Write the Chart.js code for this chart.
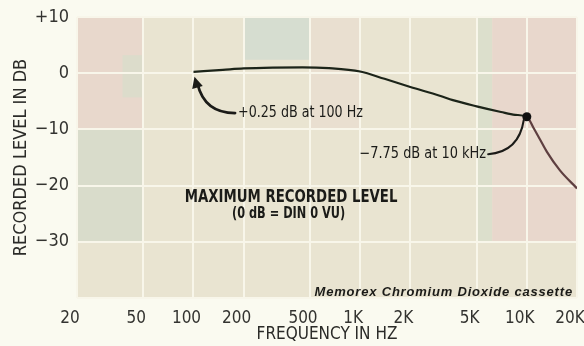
<!DOCTYPE html>
<html>
<head>
<meta charset="utf-8">
<script src="https://cdn.jsdelivr.net/npm/chart.js@4/dist/chart.umd.min.js"></script>
<style>
  html, body { margin: 0; padding: 0; background: #fafaf0; }
  #wrap { width: 584px; height: 346px; position: relative; }
</style>
</head>
<body>
<div id="wrap"><canvas id="c" width="584" height="346"></canvas></div>
<script>
// Maximum recorded level versus frequency, Memorex chromium dioxide cassette
const freqHz  = [100, 150, 200, 300, 450, 650, 1000, 1400, 2000, 3000, 3600, 5000, 7000, 8500, 10000, 11000, 12000, 13200, 15800, 20000];
const levelDb = [0.25, 0.6, 0.85, 1.0, 1.05, 0.9, 0.3, -1.0, -2.45, -4.0, -4.8, -5.9, -6.9, -7.4, -7.75, -9.8, -11.8, -14.0, -17.3, -20.5];

const freqTicks      = [20, 50, 100, 200, 500, 1000, 2000, 5000, 10000, 20000];
const freqTickLabels = ['20', '50', '100', '200', '500', '1K', '2K', '5K', '10K', '20K'];
const levelTicks      = [10, 0, -10, -20, -30, -40];
const levelTickLabels = ['+10', '0', '\u221210', '\u221220', '\u221230', ''];

const markedFreq = 10000;

const narrow = "'Liberation Sans Narrow', 'DejaVu Sans Condensed', 'Roboto Condensed', sans-serif";
const ink = '#1b1b18';
const paper = '#fafaf0';
const lineInk = '#1c2419';
const tailInk = '#5e3f40';

// tinted panels printed behind the grid: [f0, f1, dbTop, dbBottom, colour]
const tints = [
  [20, 50, 10, -10, '#e8d8cc'],
  [37.5, 50, 3.2, -4.3, '#dcdccb'],
  [20, 50, -10, -30, '#d9dccb'],
  [200, 500, 10, 2.4, '#d6ddd0'],
  [500, 1000, 10, -10, '#e9dfd0'],
  [5000, 6200, 10, -30, '#dcdfcc'],
  [6200, 20000, 10, -10, '#e8d7cc'],
  [6200, 20000, -10, -20, '#e9dccf'],
  [6200, 20000, -20, -30, '#e8d7cc']
];

const plotBackground = {
  id: 'plotBackground',
  beforeDraw(chart) {
    const { ctx, chartArea: a, scales: { x, y } } = chart;
    ctx.save();
    ctx.fillStyle = paper;
    ctx.fillRect(0, 0, chart.width, chart.height);
    ctx.fillStyle = '#e9e4d1';
    ctx.fillRect(a.left, a.top, a.right - a.left, a.bottom - a.top);
    tints.forEach(([f0, f1, d0, d1, c]) => {
      const x0 = x.getPixelForValue(f0), x1 = x.getPixelForValue(f1);
      const y0 = y.getPixelForValue(d0), y1 = y.getPixelForValue(d1);
      ctx.fillStyle = c;
      ctx.fillRect(x0, y0, x1 - x0, y1 - y0);
    });
    ctx.restore();
  }
};

function arrowHead(ctx, fromX, fromY, tipX, tipY, len, half) {
  const ang = Math.atan2(tipY - fromY, tipX - fromX);
  ctx.beginPath();
  ctx.moveTo(tipX, tipY);
  ctx.lineTo(tipX - len * Math.cos(ang) + half * Math.sin(ang), tipY - len * Math.sin(ang) - half * Math.cos(ang));
  ctx.lineTo(tipX - len * Math.cos(ang) - half * Math.sin(ang), tipY - len * Math.sin(ang) + half * Math.cos(ang));
  ctx.closePath();
  ctx.fill();
}

// text squeezed horizontally to imitate a condensed typeface
function narrowText(ctx, text, x, y, squeeze) {
  ctx.save();
  ctx.translate(x, y);
  ctx.scale(squeeze, 1);
  ctx.fillText(text, 0, 0);
  ctx.restore();
}

const notes = {
  id: 'notes',
  afterDatasetsDraw(chart) {
    const { ctx, scales: { x, y } } = chart;
    const px = f => x.getPixelForValue(f);
    const py = d => y.getPixelForValue(d);
    ctx.save();
    ctx.fillStyle = ink;
    ctx.strokeStyle = ink;
    ctx.lineCap = 'round';
    ctx.textBaseline = 'middle';

    // low-frequency callout
    ctx.font = `15px ${narrow}`;
    ctx.textAlign = 'left';
    const t1x = px(185), t1y = py(-7.1);
    narrowText(ctx, '+0.25 dB at 100 Hz', t1x, t1y, 0.94);
    const tipX = px(freqHz[0]) + 1, tipY = py(levelDb[0]) + 5;
    const cx1 = tipX + 10, cy1 = t1y;
    ctx.lineWidth = 2.8;
    ctx.beginPath();
    ctx.moveTo(t1x - 3, t1y);
    ctx.quadraticCurveTo(cx1, cy1, tipX + 3, tipY + 7);
    ctx.stroke();
    arrowHead(ctx, cx1 - 2, cy1 - 8, tipX, tipY, 11, 5.5);

    // high-frequency callout
    ctx.textAlign = 'right';
    const t2x = px(5700), t2y = py(-14.4);
    narrowText(ctx, '\u22127.75 dB at 10 kHz', t2x, t2y, 0.96);
    const i10 = freqHz.indexOf(markedFreq);
    const dX = px(markedFreq), dY = py(levelDb[i10]);
    ctx.lineWidth = 2;
    ctx.beginPath();
    ctx.moveTo(t2x + 2, t2y);
    ctx.quadraticCurveTo(dX - 8, t2y - 2, dX - 3, dY + 3);
    ctx.stroke();

    // panel caption
    ctx.textAlign = 'center';
    ctx.font = `bold 17px ${narrow}`;
    narrowText(ctx, 'MAXIMUM RECORDED LEVEL', px(385), py(-22.1), 0.87);
    ctx.font = `bold 15px ${narrow}`;
    narrowText(ctx, '(0 dB = DIN 0 VU)', px(372), py(-25.0), 0.84);

    // product name
    ctx.textAlign = 'right';
    ctx.font = "italic bold 13px 'Liberation Sans', Arial, sans-serif";
    if ('letterSpacing' in ctx) ctx.letterSpacing = '0.8px';
    ctx.fillText('Memorex Chromium Dioxide cassette', px(18900), py(-39.0));
    ctx.restore();
  }
};

const points = freqHz.map((f, i) => ({ x: f, y: levelDb[i] }));

new Chart(document.getElementById('c'), {
  type: 'scatter',
  data: {
    datasets: [{
      data: points,
      showLine: true,
      borderColor: lineInk,
      borderWidth: 2.2,
      cubicInterpolationMode: 'monotone',
      segment: {
        borderColor: c => (c.p0.parsed.x >= markedFreq ? tailInk : lineInk)
      },
      pointRadius: c => (c.raw && c.raw.x === markedFreq ? 4.5 : 0),
      pointBackgroundColor: '#111',
      pointBorderWidth: 0,
      pointHoverRadius: 0
    }]
  },
  options: {
    responsive: false,
    animation: false,
    events: [],
    layout: { padding: { left: 0, right: 7, top: 17, bottom: 0 } },
    plugins: { legend: { display: false }, tooltip: { enabled: false } },
    scales: {
      x: {
        type: 'logarithmic',
        min: 20,
        max: 20000,
        afterBuildTicks: s => { s.ticks = freqTicks.map(v => ({ value: v })); },
        afterFit: s => { s.height = 48; s.paddingLeft = 0; s.paddingRight = 0; },
        ticks: {
          autoSkip: false,
          maxRotation: 0,
          padding: 10,
          labelOffset: -7,
          color: '#333330',
          font: { family: narrow, size: 17 },
          callback: v => {
            const i = freqTicks.indexOf(v);
            return i >= 0 ? freqTickLabels[i] : '';
          }
        },
        grid: { color: '#f8f6ea', lineWidth: 2, drawTicks: false },
        border: { display: false },
        title: {
          display: true,
          text: 'FREQUENCY IN HZ',
          color: '#2b2b28',
          font: { family: narrow, size: 17 },
          padding: { top: 0, bottom: 1 }
        }
      },
      y: {
        min: -40,
        max: 10,
        afterBuildTicks: s => { s.ticks = levelTicks.map(v => ({ value: v })); },
        afterFit: s => { s.width = 77; s.paddingTop = 0; s.paddingBottom = 0; },
        ticks: {
          padding: 8,
          color: '#333330',
          font: { family: narrow, size: 18 },
          callback: v => {
            const i = levelTicks.indexOf(v);
            return i >= 0 ? levelTickLabels[i] : '';
          }
        },
        grid: { color: '#f8f6ea', lineWidth: 2, drawTicks: false },
        border: { display: false },
        title: {
          display: true,
          text: 'RECORDED LEVEL IN DB',
          color: '#2b2b28',
          font: { family: narrow, size: 18 },
          padding: { top: 11, bottom: 0 }
        }
      }
    }
  },
  plugins: [plotBackground, notes]
});
</script>
</body>
</html>
